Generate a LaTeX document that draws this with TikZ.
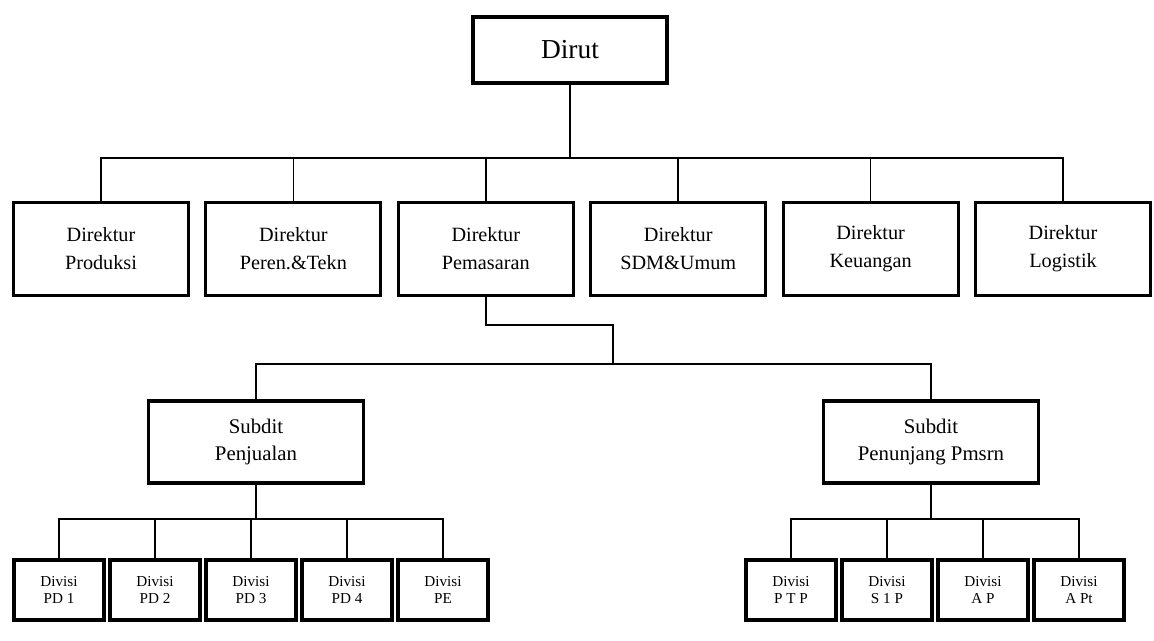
\documentclass[tikz,border=0pt]{standalone}
\usepackage{fontspec}
\setmainfont{Liberation Serif}
\usetikzlibrary{shapes.geometric}
\tikzstyle{topbox} = [rectangle, minimum width=4.85cm, minimum height=1.65cm, text centered, draw=black, line width=2.2pt, font=\fontsize{19.5}{23}\selectfont]
\tikzstyle{dirbox} = [rectangle, minimum width=4.375cm, minimum height=2.325cm, align=center, draw=black, line width=2.2pt, font=\fontsize{14.4}{20}\selectfont, node distance=4.81cm]
\tikzstyle{subbox} = [rectangle, minimum width=5.375cm, minimum height=2.05cm, align=center, draw=black, line width=2.2pt, font=\fontsize{14.8}{19}\selectfont]
\tikzstyle{divbox} = [rectangle, minimum width=2.25cm, minimum height=1.5cm, align=center, draw=black, line width=2.2pt, font=\fontsize{10.8}{12}\selectfont, node distance=2.4cm]
\tikzstyle{link} = [line width=1.2pt]

\begin{document}
\begin{tikzpicture}
\useasboundingbox (0,0) rectangle (28.85,-16.025);

\node (dirut) [topbox] at (14.25,-1.25) {Dirut};

\node (prod) [dirbox] at (2.525,-6.225) {Direktur\\Produksi};
\node (peren) [dirbox, right of=prod] {Direktur\\Peren.\&Tekn};
\node (pem) [dirbox, right of=peren] {Direktur\\Pemasaran};
\node (sdm) [dirbox, right of=pem] {Direktur\\SDM\&Umum};
\node (keu) [dirbox, right of=sdm] {Direktur\\Keuangan};
\node (log) [dirbox, right of=keu] {Direktur\\Logistik};

\node (penj) [subbox] at (6.4,-11.05) {Subdit\\Penjualan};
\node (penun) [subbox] at (23.275,-11.05) {Subdit\\Penunjang Pmsrn};

\node (pd1) [divbox] at (1.475,-14.75) {Divisi\\PD 1};
\node (pd2) [divbox, right of=pd1] {Divisi\\PD 2};
\node (pd3) [divbox, right of=pd2] {Divisi\\PD 3};
\node (pd4) [divbox, right of=pd3] {Divisi\\PD 4};
\node (pe) [divbox, right of=pd4] {Divisi\\PE};

\node (ptp) [divbox] at (19.775,-14.75) {Divisi\\P T P};
\node (sip) [divbox, right of=ptp] {Divisi\\S 1 P};
\node (ap) [divbox, right of=sip] {Divisi\\A P};
\node (apt) [divbox, right of=ap] {Divisi\\A Pt};

\coordinate (dirbar) at (14.25,-3.95);
\coordinate (pemjoint) at (15.325,-8.125);
\coordinate (subbar) at (15.325,-9.1);
\coordinate (penjbar) at (6.4,-12.975);
\coordinate (penunbar) at (23.275,-12.975);

\draw [link] (dirut) -- (dirbar);
\foreach \n in {prod,peren,pem,sdm,keu,log}
  \draw [link] (dirbar) -| (\n);
\draw [link] (pem) |- (pemjoint) -- (subbar);
\draw [link] (subbar) -| (penj);
\draw [link] (subbar) -| (penun);
\draw [link] (penj) -- (penjbar);
\foreach \n in {pd1,pd2,pd3,pd4,pe}
  \draw [link] (penjbar) -| (\n);
\draw [link] (penun) -- (penunbar);
\foreach \n in {ptp,sip,ap,apt}
  \draw [link] (penunbar) -| (\n);
\end{tikzpicture}
\end{document}
